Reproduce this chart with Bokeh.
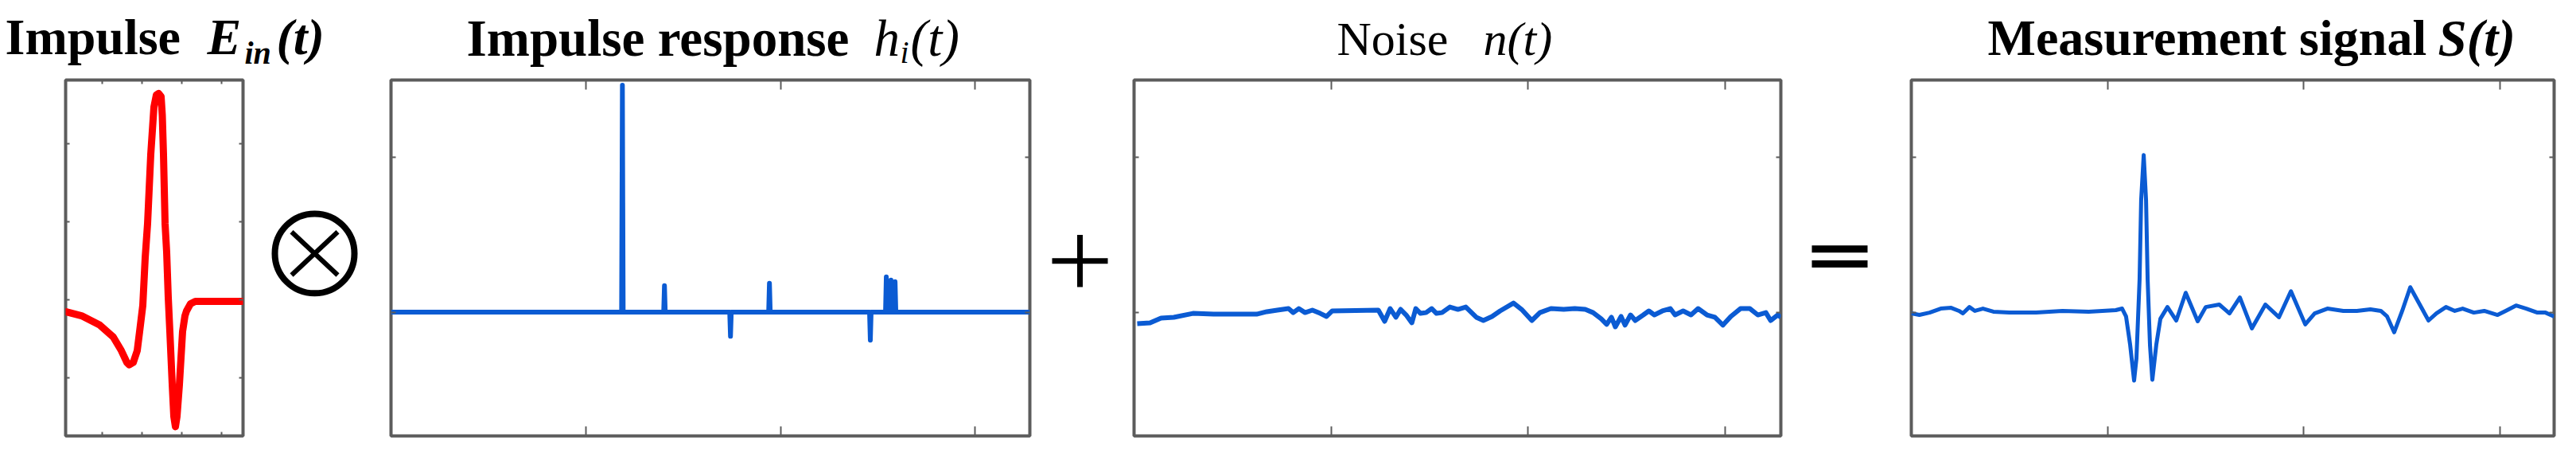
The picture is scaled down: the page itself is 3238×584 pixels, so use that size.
from bokeh.plotting import figure
from bokeh.models import Range1d, LinearAxis, FixedTicker, CustomJSTickFormatter
from bokeh.layouts import row, column
from bokeh.embed import file_html
from bokeh.resources import INLINE
from bokeh.core.properties import value

# ---------------- data ----------------
# Panel 1: incident impulse E_in(t)
ein_t = [0.08, 0.48, 0.94, 1.28, 1.48, 1.62, 1.68, 1.78, 1.88, 1.94, 2.02, 2.08,
         2.14, 2.22, 2.30, 2.36, 2.42, 2.48, 2.51, 2.54, 2.58, 2.62, 2.66, 2.70,
         2.76, 2.80, 2.84, 2.88, 2.94, 3.02, 3.08, 3.12, 3.22, 3.34, 4.54]
ein_v = [-0.076, -0.102, -0.162, -0.239, -0.325, -0.401, -0.416, -0.401, -0.325,
         -0.203, -0.036, 0.269, 0.487, 0.929, 1.234, 1.310, 1.320, 1.300, 1.180,
         0.929, 0.487, 0.305, 0.015, -0.203, -0.543, -0.746, -0.812, -0.746,
         -0.543, -0.203, -0.102, -0.071, -0.025, -0.010, -0.010]

# Panel 2: impulse response h_i(t) (spike times and amplitudes)
h_spike_t = [1.188, 1.404, 1.743, 1.943, 2.461, 2.543, 2.567, 2.588]
h_spike_v = [1.466, 0.171, -0.156, 0.187, -0.181, 0.228, 0.207, 0.197]
h_span = [0.0, 3.28]

# Panel 3: noise n(t)
noise_t = [0.016, 0.081, 0.137, 0.202, 0.299, 0.404, 0.513, 0.622, 0.674, 0.727,
           0.784, 0.808, 0.836, 0.868, 0.905, 0.945, 0.977, 1.006, 1.240, 1.272,
           1.300, 1.329, 1.353, 1.381, 1.410, 1.430, 1.454, 1.482, 1.511, 1.535,
           1.563, 1.603, 1.644, 1.684, 1.737, 1.773, 1.817, 1.858, 1.926, 1.967,
           2.019, 2.060, 2.116, 2.181, 2.237, 2.290, 2.330, 2.371, 2.399, 2.423,
           2.443, 2.472, 2.492, 2.520, 2.544, 2.585, 2.613, 2.641, 2.682, 2.722,
           2.746, 2.787, 2.827, 2.863, 2.908, 2.948, 2.989, 3.029, 3.078, 3.126,
           3.166, 3.207, 3.231, 3.267, 3.283]
noise_v = [-0.074, -0.069, -0.038, -0.033, -0.008, -0.013, -0.013, -0.013, 0.003, 0.013,
           0.023, -0.003, 0.023, -0.003, 0.013, -0.008, -0.028, 0.008, 0.013, -0.059,
           0.023, -0.033, 0.018, -0.018, -0.069, 0.023, -0.008, -0.003, 0.023, -0.008,
           -0.003, 0.033, 0.018, 0.033, -0.033, -0.054, -0.028, 0.008, 0.059, 0.018,
           -0.054, -0.003, 0.023, 0.018, 0.023, 0.018, -0.003, -0.043, -0.079, -0.033,
           -0.095, -0.028, -0.084, -0.018, -0.054, -0.018, 0.008, -0.018, 0.008, 0.023,
           -0.018, 0.008, -0.018, 0.023, -0.018, -0.033, -0.084, -0.028, 0.023, 0.023,
           -0.018, -0.003, -0.054, -0.018, -0.033]

# Panel 4: measurement signal S(t)
meas_t = [0.000, 0.041, 0.093, 0.150, 0.203, 0.243, 0.263, 0.296, 0.324, 0.365,
          0.418, 0.499, 0.636, 0.770, 0.904, 1.042, 1.074, 1.094, 1.115, 1.135,
          1.147, 1.163, 1.171, 1.184, 1.196, 1.204, 1.216, 1.228, 1.248, 1.269,
          1.305, 1.350, 1.398, 1.459, 1.500, 1.569, 1.621, 1.674, 1.735, 1.804,
          1.873, 1.934, 2.007, 2.055, 2.120, 2.201, 2.270, 2.339, 2.392, 2.424,
          2.460, 2.501, 2.542, 2.586, 2.635, 2.675, 2.724, 2.769, 2.809, 2.866,
          2.919, 2.987, 3.028, 3.081, 3.133, 3.190, 3.231, 3.275]
meas_v = [-0.008, -0.018, -0.003, 0.023, 0.028, 0.008, -0.008, 0.033, 0.008, 0.023,
          0.003, -0.003, -0.003, 0.008, 0.003, 0.013, 0.023, -0.028, -0.212, -0.442,
          -0.299, 0.212, 0.723, 1.015, 0.723, 0.212, -0.212, -0.437, -0.212, -0.043,
          0.033, -0.054, 0.125, -0.059, 0.033, 0.049, -0.008, 0.095, -0.105, 0.049,
          -0.033, 0.135, -0.079, -0.008, 0.023, 0.008, 0.008, 0.018, 0.008, -0.028,
          -0.130, 0.008, 0.161, 0.059, -0.054, -0.008, 0.033, 0.008, 0.023, -0.003,
          0.008, -0.018, 0.008, 0.043, 0.023, -0.003, -0.003, -0.028]

# Axis ticks
ticks_x_small = [1, 2, 3, 4]
ticks_y_small = [-0.5, 0, 0.5, 1.0]
ticks_x_big = [1, 2, 3]
ticks_y_big = [0, 1]

# Titles
titles = ["Impulse", "E", "in", "(t)",
          "Impulse response", "h", "i", "(t)",
          "Noise", "n(t)",
          "Measurement signal", "S(t)"]

# ---------------- styling ----------------
BLUE = "#0b5bd3"
RED = "#ff0000"
FRAME = "#5c5c5c"
FONT = value("Liberation Serif")
H_TITLE = 90
H_ROW = 478
NOLABEL = CustomJSTickFormatter(code="return ''")


def panel(width, xr, yr, borders, xticks, yticks, xlen, ylen):
    left, right, top, bottom = borders
    p = figure(width=width, height=H_ROW, x_range=Range1d(*xr), y_range=Range1d(*yr),
               title=None, output_backend="svg", toolbar_location=None,
               x_axis_location=None, y_axis_location=None,
               min_border_left=left, min_border_right=right,
               min_border_top=top, min_border_bottom=bottom,
               outline_line_color=FRAME, outline_line_width=4,
               background_fill_color="white", border_fill_color="white")
    p.grid.visible = False
    for loc, tk, ln in (("above", xticks, xlen), ("below", xticks, xlen),
                        ("left", yticks, ylen), ("right", yticks, ylen)):
        ax = LinearAxis(ticker=FixedTicker(ticks=tk), formatter=NOLABEL)
        ax.axis_line_color = None
        ax.major_tick_in = ln
        ax.major_tick_out = 0
        ax.major_tick_line_color = FRAME
        ax.major_tick_line_width = 2
        ax.minor_tick_line_color = None
        ax.major_label_text_font_size = "1px"
        ax.major_label_standoff = 0
        p.add_layout(ax, loc)
    return p


def opfig(width):
    p = figure(width=width, height=H_ROW, x_range=Range1d(0, width), y_range=Range1d(0, H_ROW),
               title=None, output_backend="svg", toolbar_location=None,
               x_axis_location=None, y_axis_location=None, min_border=0,
               outline_line_color=None, background_fill_color="white",
               border_fill_color="white")
    p.grid.visible = False
    return p


# ---------------- title strip ----------------
tf = figure(width=3222, height=H_TITLE, x_range=Range1d(0, 3222), y_range=Range1d(0, H_TITLE),
            title=None, output_backend="svg", toolbar_location=None,
            x_axis_location=None, y_axis_location=None, min_border=0,
            outline_line_color=None, background_fill_color="white", border_fill_color="white")
tf.grid.visible = False


def ttext(x, y, s, size, style):
    tf.text(x=[x], y=[y], text=[s], text_font=FONT, text_font_style=style,
            text_font_size=f"{size}px", text_color="black",
            text_baseline="alphabetic", text_align="left")


ttext(6, 44, titles[0], 64, "bold")
ttext(260, 44, titles[1], 64, "bold italic")
ttext(307, 24, titles[2], 40, "bold italic")
ttext(347, 44, titles[3], 64, "bold italic")

ttext(586, 43, titles[4], 65, "bold")
ttext(1098, 43, titles[5], 65, "italic")
ttext(1131, 25, titles[6], 40, "italic")
ttext(1144, 43, titles[7], 65, "italic")

ttext(1680, 42, titles[8], 60, "normal")
ttext(1864, 42, titles[9], 60, "italic")

ttext(2498, 43, titles[10], 64, "bold")
ttext(3064, 43, titles[11], 65, "bold italic")

# ---------------- panels ----------------
p1 = panel(339, (0.08, 4.54), (-0.871, 1.406), (82, 34, 9, 21),
           ticks_x_small, ticks_y_small, 5, 5)
p1.line(ein_t, ein_v, line_color=RED, line_width=9, line_join="round", line_cap="round")

p2 = panel(855, (0.0, 3.28), (-0.8, 1.5), (29, 23, 10, 18),
           ticks_x_big, ticks_y_big, 12, 6)
ht, hv = [h_span[0]], [0.0]
for s, a in zip(h_spike_t, h_spike_v):
    ht += [s - 0.004, s, s + 0.004]
    hv += [0.0, a, 0.0]
ht.append(h_span[1])
hv.append(0.0)
p2.line(ht, hv, line_color=BLUE, line_width=6, line_join="round")

p3 = panel(860, (0.0, 3.283), (-0.8, 1.5), (23, 24, 10, 18),
           ticks_x_big, ticks_y_big, 12, 6)
p3.line(noise_t, noise_v, line_color=BLUE, line_width=6, line_join="round")

p4 = panel(845, (0.0, 3.275), (-0.8, 1.5), (25, 12, 10, 19),
           ticks_x_big, ticks_y_big, 12, 6)
p4.line(meas_t, meas_v, line_color=BLUE, line_width=5, line_join="round")

# ---------------- operators ----------------
o1 = opfig(123)
o1.circle(x=[56], y=[245], radius=50, fill_color=None, line_color="black", line_width=8)
o1.segment(x0=[27, 27], y0=[216, 274], x1=[85, 85], y1=[274, 216],
           line_color="black", line_width=6)

o2 = opfig(85)
o2.segment(x0=[5, 40], y0=[235, 200], x1=[75, 40], y1=[235, 270],
           line_color="black", line_width=7)

o3 = opfig(115)
o3.segment(x0=[15, 15], y0=[251, 231], x1=[85, 85], y1=[251, 231],
           line_color="black", line_width=9)

layout = column(tf, row(p1, o1, p2, o2, p3, o3, p4))

open("out.html", "w").write(file_html(layout, INLINE))
